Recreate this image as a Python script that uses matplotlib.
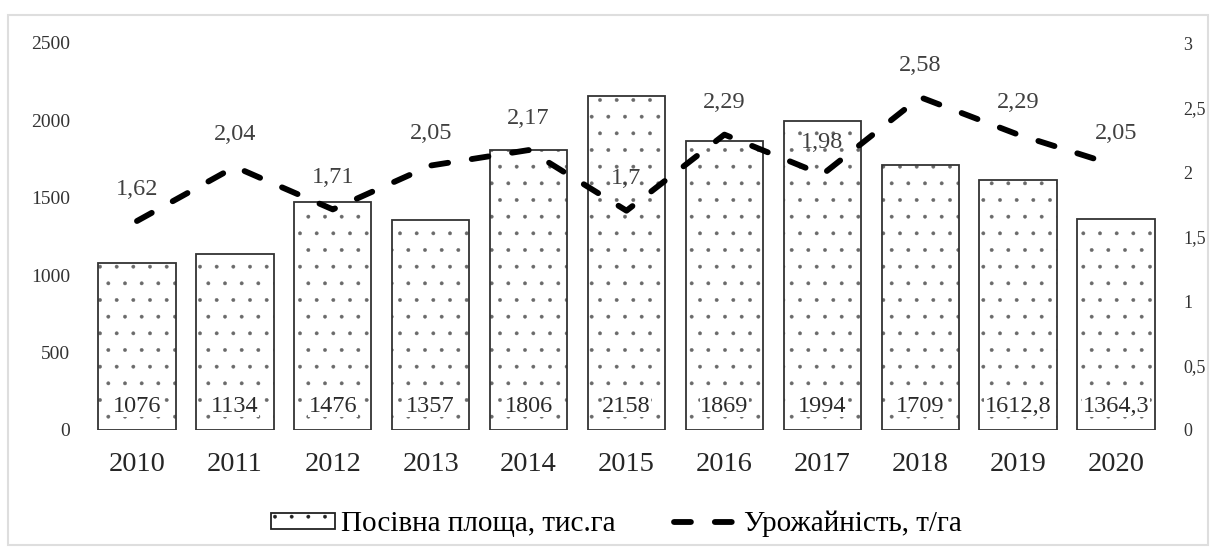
"""
Sown area and yield chart, 2010-2020.

Bars show the sown area (thousand ha), the dashed line shows the yield (t/ha).
"""

import matplotlib

matplotlib.use("Agg")
import matplotlib.pyplot as plt
from matplotlib.patches import Rectangle

years = ["2010", "2011", "2012", "2013", "2014", "2015",
         "2016", "2017", "2018", "2019", "2020"]
area = [1076, 1134, 1476, 1357, 1806, 2158, 1869, 1994, 1709, 1612.8, 1364.3]
yield_t = [1.62, 2.04, 1.71, 2.05, 2.17, 1.7, 2.29, 1.98, 2.58, 2.29, 2.05]

area_ticks = [0, 500, 1000, 1500, 2000, 2500]
yield_ticks = [0, 0.5, 1, 1.5, 2, 2.5, 3]

area_label = "Посівна площа, тис.га"
yield_label = "Урожайність, т/га"


def fmt(v):
    """Format number with comma as decimal separator."""
    s = f"{v:g}"
    return s.replace(".", ",")


def build_chart(save_path="out.png"):
    """Draw bars with the yield line and save the figure."""
    plt.rcParams["font.family"] = ["Liberation Serif", "DejaVu Serif"]
    plt.rcParams["hatch.linewidth"] = 0.3

    fig = plt.figure(figsize=(12.16, 5.51), dpi=100)
    fig.patches.append(Rectangle((8 / 1216, 1 - 545 / 551), 1200 / 1216, 530 / 551,
                                 transform=fig.transFigure, fill=False,
                                 edgecolor="#dedede", linewidth=1.5))

    ax = fig.add_axes([88 / 1216, 1 - 430 / 551, 1077 / 1216, 387 / 551])
    x = list(range(len(years)))

    # dotted fill first (hatch takes the edge colour), then the dark outline
    ax.bar(x, area, width=0.79, color="white", edgecolor="#6a6a6a",
           linewidth=0, hatch=".", zorder=2)
    ax.bar(x, area, width=0.79, fill=False, edgecolor="#333333",
           linewidth=1.3, zorder=2)
    for i, v in enumerate(area):
        ax.annotate(fmt(v), (i, 0), xytext=(0, 17), textcoords="offset points",
                    ha="center", va="center", fontsize=17.5, color="#2a2a2a",
                    zorder=4,
                    bbox=dict(boxstyle="square,pad=0.02", fc="white", ec="none"))

    ax.set_xlim(-0.5, len(years) - 0.5)
    ax.set_ylim(0, 2500)
    ax.set_yticks(area_ticks)
    ax.set_yticklabels([str(t) for t in area_ticks], fontsize=14, color="#333333")
    ax.set_xticks(x)
    ax.set_xticklabels(years, fontsize=20.5, color="#262626")
    ax.tick_params(axis="y", length=0, pad=13)
    ax.tick_params(axis="x", length=0, pad=16)
    for s in ax.spines.values():
        s.set_visible(False)

    ax2 = ax.twinx()
    ax2.set_ylim(0, 3)
    line, = ax2.plot(x, yield_t, color="black", linewidth=4.2,
                     dashes=(2.9, 4.1), dash_capstyle="round", zorder=3)
    for i, v in enumerate(yield_t):
        ax2.annotate(fmt(v), (i, v), xytext=(0, 23), textcoords="offset points",
                     ha="center", va="center", fontsize=17.5, color="#404040")
    ax2.set_yticks(yield_ticks)
    ax2.set_yticklabels([fmt(t) for t in yield_ticks], fontsize=13, color="#333333")
    ax2.tick_params(axis="y", length=0, pad=13)
    for s in ax2.spines.values():
        s.set_visible(False)

    # legend handle for the bars: dotted box with outline
    area_handle = Rectangle((0, 0), 1, 1, facecolor="white", edgecolor="#222222",
                            linewidth=1.3, hatch=".")
    fig.legend([area_handle, line], [area_label, yield_label], loc="center",
               bbox_to_anchor=(0.507, 1 - 524 / 551), ncol=2, frameon=False,
               fontsize=21, handlelength=2.2, handleheight=0.45,
               handletextpad=0.2, columnspacing=2.0)

    fig.savefig(save_path, dpi=100)


def main():
    """Entrance."""
    build_chart()


if __name__ == "__main__":
    main()
